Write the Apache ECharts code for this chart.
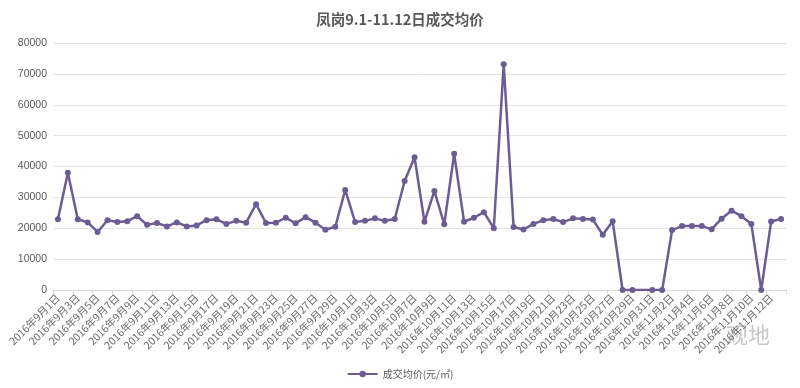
<!DOCTYPE html>
<html>
<head>
<meta charset="utf-8">
<script src="https://cdn.jsdelivr.net/npm/echarts@6/dist/echarts.min.js"></script>
<style>
html,body{margin:0;padding:0;background:#fff;}
#main{width:800px;height:388px;}
</style>
</head>
<body>
<div id="main"></div>
<script>
var titleText = '凤岗9.1-11.12日成交均价';
var seriesName = '成交均价(元/㎡)';
var categories = [
'2016年9月1日','2016年9月2日','2016年9月3日','2016年9月4日','2016年9月5日','2016年9月6日','2016年9月7日','2016年9月8日','2016年9月9日','2016年9月10日',
'2016年9月11日','2016年9月12日','2016年9月13日','2016年9月14日','2016年9月15日','2016年9月16日','2016年9月17日','2016年9月18日','2016年9月19日','2016年9月20日',
'2016年9月21日','2016年9月22日','2016年9月23日','2016年9月24日','2016年9月25日','2016年9月26日','2016年9月27日','2016年9月28日','2016年9月29日','2016年9月30日',
'2016年10月1日','2016年10月2日','2016年10月3日','2016年10月4日','2016年10月5日','2016年10月6日','2016年10月7日','2016年10月8日','2016年10月9日','2016年10月10日',
'2016年10月11日','2016年10月12日','2016年10月13日','2016年10月14日','2016年10月15日','2016年10月16日','2016年10月17日','2016年10月18日','2016年10月19日','2016年10月20日',
'2016年10月21日','2016年10月22日','2016年10月23日','2016年10月24日','2016年10月25日','2016年10月26日','2016年10月27日','2016年10月28日','2016年10月29日','2016年10月30日',
'2016年10月31日','2016年11月1日','2016年11月2日','2016年11月3日','2016年11月4日','2016年11月5日','2016年11月6日','2016年11月7日','2016年11月8日','2016年11月9日',
'2016年11月10日','2016年11月11日','2016年11月12日','2016年11月13日'
];
var values = [
22900,38000,22900,21900,18800,22600,22000,22300,23900,21100,
21700,20600,21900,20600,20900,22600,22900,21400,22400,21800,
27800,21700,21800,23400,21600,23600,21800,19500,20500,32400,
22000,22400,23200,22400,23000,35300,43000,22100,32100,21300,
44100,22100,23400,25200,20000,73100,20400,19600,21400,22600,
23000,22000,23200,23000,22800,17900,22300,0,0,null,
0,0,19400,20700,20700,20700,19700,23100,25700,23900,
21400,0,22200,23000
];
var yTicks = [0,10000,20000,30000,40000,50000,60000,70000,80000];

var chart = echarts.init(document.getElementById('main'), null, {renderer:'canvas'});
var lineColor = '#6c5c94';
chart.setOption({
  animation:false,
  backgroundColor:'#ffffff',
  title:{
    text:titleText, left:'center', top:7,
    textStyle:{fontFamily:'Noto Sans CJK SC', fontSize:14.5, fontWeight:'bold', color:'#595959'}
  },
  legend:{
    bottom:4, left:'center',
    itemWidth:30, itemHeight:8,
    textStyle:{fontFamily:'Noto Sans CJK SC', fontSize:10, color:'#595959'},
    data:[seriesName]
  },
  graphic:[{
    type:'text', right:30, bottom:42,
    style:{text:'观地', fill:'#c8c8c8', font:'22px "Noto Sans CJK SC"'}
  }],
  grid:{left:53, right:14, top:43, bottom:98},
  xAxis:{
    type:'category', data:categories, boundaryGap:true,
    axisLine:{lineStyle:{color:'#d9d9d9', width:1}},
    axisTick:{show:true, interval:1, length:4, lineStyle:{color:'#d9d9d9'}},
    axisLabel:{interval:1, rotate:45, fontSize:10.5, color:'#6a6a6a', margin:6, fontFamily:'Noto Sans CJK SC'}
  },
  yAxis:{
    type:'value', min:yTicks[0], max:yTicks[yTicks.length-1], interval:yTicks[1]-yTicks[0],
    axisLine:{show:false}, axisTick:{show:false},
    axisLabel:{fontSize:10.5, color:'#595959', margin:6, fontFamily:'Liberation Sans',
      formatter:function(v){return String(v);}},
    splitLine:{lineStyle:{color:'#e3e3e3', width:1}}
  },
  series:[{
    name:seriesName, type:'line', data:values, connectNulls:true,
    symbol:'circle', symbolSize:6, showSymbol:true,
    lineStyle:{color:lineColor, width:2.5},
    itemStyle:{color:lineColor}
  }]
});
</script>
</body>
</html>
